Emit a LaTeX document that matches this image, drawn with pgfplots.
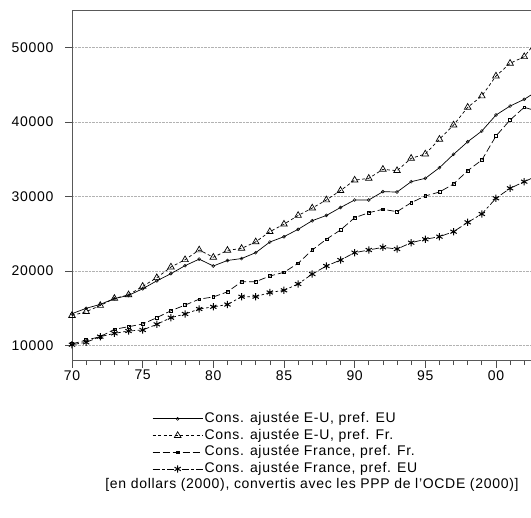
\documentclass[border=0pt]{standalone}
\usepackage{pgfplots}
\pgfplotsset{compat=1.18}
\usepackage{fontspec}
\setmainfont{Liberation Sans}[LetterSpace=5]
\usetikzlibrary{plotmarks}
\begin{document}
\begin{tikzpicture}
\begin{axis}[
  at={(0pt,0pt)}, anchor=south west,
  scale only axis, width=459pt, height=350.7pt,
  xmin=1970, xmax=2002.48, ymin=7930, ymax=55070,
  axis line style={black!65, line width=0.8pt},
  xtick={1970,1975,1980,1985,1990,1995,2000},
  xticklabels={70,75,80,85,90,95,00},
  minor xtick={1970,...,2003},
  ytick={10000,20000,30000,40000,50000},
  tick align=outside, xtick pos=bottom, ytick pos=left,
  major tick length=7pt, minor tick length=4.5pt,
  tick style={black!70, line width=0.6pt},
  ymajorgrids, major grid style={densely dotted, black!30, line width=0.6pt},
  /pgf/number format/assume math mode=true,
  scaled y ticks=false,
  yticklabel style={/pgf/number format/.cd, fixed, 1000 sep={}, /tikz/.cd, xshift=-8pt},
  xticklabel style={yshift=1pt},
  tick label style={font=\fontsize{14}{16}\selectfont},
  legend cell align=left,
  legend style={at={(0.175,-0.142)}, anchor=north west, draw=none, fill=none,
    inner sep=0pt, outer sep=0pt, row sep=0pt,
    font=\fontsize{14}{16}\selectfont,
    nodes={inner sep=1.5pt, text height=10.5pt, text depth=3.2pt},
    /tikz/every even column/.append style={column sep=8pt}},
  legend image code/.code={\draw[mark repeat=2,mark phase=2,#1] plot coordinates {(0pt,0pt) (25pt,0pt) (50pt,0pt)};},
  clip=true,
]
% A: solid, small circles
\addplot[black, line width=0.7pt, mark=o, mark size=1.5pt, mark options={solid, line width=0.5pt}] coordinates {
(1970,14250)(1971,14970)(1972,15500)(1973,16280)(1974,16700)(1975,17600)(1976,18660)(1977,19630)(1978,20700)(1979,21580)
(1980,20660)(1981,21400)(1982,21660)(1983,22450)(1984,23880)(1985,24600)(1986,25590)(1987,26750)(1988,27450)(1989,28520)
(1990,29530)(1991,29530)(1992,30650)(1993,30600)(1994,31990)(1995,32440)(1996,33870)(1997,35670)(1998,37360)(1999,38800)
(2000,40950)(2001,42160)(2002,43060)(2003,44270)};
\addlegendentry{Cons. ajustée E-U, pref. EU}
% B: short dashed, triangles
\addplot[black, line width=0.7pt, dash pattern=on 3pt off 2.5pt, mark=triangle, mark size=3.8pt, mark options={solid, line width=0.7pt}] coordinates {
(1970,14000)(1971,14520)(1972,15350)(1973,16300)(1974,16780)(1975,17920)(1976,19080)(1977,20520)(1978,21500)(1979,22810)
(1980,21830)(1981,22760)(1982,23020)(1983,23900)(1984,25270)(1985,26280)(1986,27450)(1987,28450)(1988,29530)(1989,30800)
(1990,32200)(1991,32440)(1992,33650)(1993,33470)(1994,35130)(1995,35710)(1996,37690)(1997,39610)(1998,41990)(1999,43510)
(2000,46190)(2001,47900)(2002,48790)(2003,51200)};
\addlegendentry{Cons. ajustée E-U, pref. Fr.}
% C: long dashed, small squares
\addplot[black, line width=0.7pt, dash pattern=on 7pt off 3pt, mark=square, mark size=1.4pt, mark options={solid, line width=0.5pt}] coordinates {
(1970,10180)(1971,10700)(1972,11160)(1973,12150)(1974,12500)(1975,12860)(1976,13710)(1977,14650)(1978,15400)(1979,16200)
(1980,16500)(1981,17180)(1982,18550)(1983,18550)(1984,19310)(1985,19810)(1986,21020)(1987,22810)(1988,24250)(1989,25500)
(1990,27150)(1991,27820)(1992,28280)(1993,27960)(1994,29170)(1995,30070)(1996,30600)(1997,31680)(1998,33470)(1999,34900)
(2000,38130)(2001,40280)(2002,41990)(2003,41420)};
\addlegendentry{Cons. ajustée France, pref. Fr.}
% D: dash-dot, asterisks
\addplot[black, line width=0.7pt, dash pattern=on 7pt off 2.5pt on 2.5pt off 2.5pt, mark=asterisk, mark size=3.6pt, mark options={solid, line width=1pt}] coordinates {
(1970,10080)(1971,10400)(1972,11160)(1973,11610)(1974,11920)(1975,12060)(1976,12820)(1977,13710)(1978,14210)(1979,14880)
(1980,15170)(1981,15480)(1982,16530)(1983,16530)(1984,17100)(1985,17390)(1986,18240)(1987,19580)(1988,20660)(1989,21460)
(1990,22450)(1991,22810)(1992,23170)(1993,22940)(1994,23790)(1995,24250)(1996,24600)(1997,25270)(1998,26530)(1999,27650)
(2000,29760)(2001,31100)(2002,31990)(2003,32850)};
\addlegendentry{Cons. ajustée France, pref. EU}
\end{axis}
\node[font=\fontsize{14}{16}\selectfont, inner sep=0pt] at (240pt,-124pt) {[en dollars (2000), convertis avec les PPP de l'OCDE (2000)]};
\pgfresetboundingbox
\path[use as bounding box] (-72pt,-157.3pt) rectangle (459pt,360.7pt);
\end{tikzpicture}
\end{document}
